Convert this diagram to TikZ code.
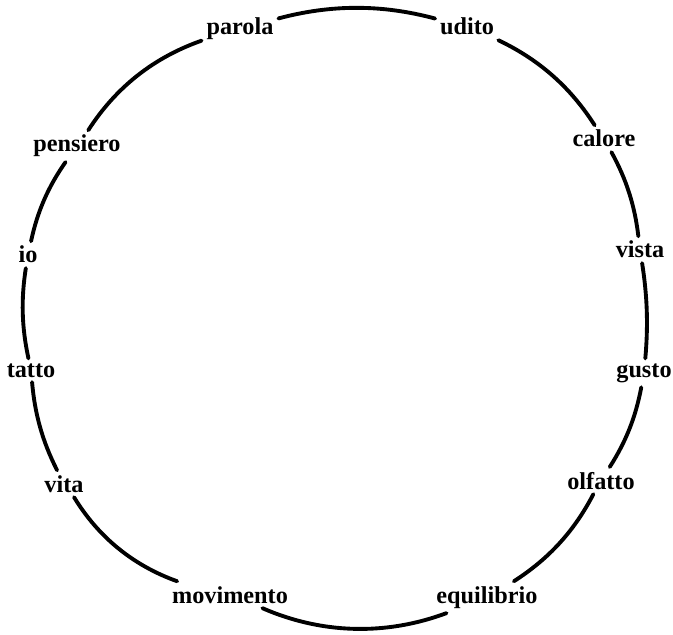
\documentclass[tikz,border=0pt]{standalone}
\usepackage{fontspec}
\setmainfont{Liberation Serif}
\usepackage{tikz}

\begin{document}
\begin{tikzpicture}[
  x=0.03cm,y=0.03cm,
  sense/.style={anchor=base,inner sep=4pt,font=\bfseries\fontsize{20.7}{25}\selectfont},
  ring/.style={line width=3.3pt,line cap=round}
]
\useasboundingbox (0,0) rectangle (673,634);

\node[sense] (parola) at (240,599) {parola};
\node[sense] (udito) at (467,599) {udito};
\node[sense] (calore) at (604,487) {calore};
\node[sense] (vista) at (640,376) {vista};
\node[sense] (gusto) at (644,257) {gusto};
\node[sense] (olfatto) at (601,145) {olfatto};
\node[sense] (equilibrio) at (487,31) {equilibrio};
\node[sense] (movimento) at (230,31) {movimento};
\node[sense] (vita) at (64,142) {vita};
\node[sense] (tatto) at (31,257) {tatto};
\node[sense] (io) at (28,371) {io};
\node[sense] (pensiero) at (77,482) {pensiero};

\foreach \from/\to/\bend in {parola/udito/15,udito/calore/16,calore/vista/11,
    vista/gusto/7,gusto/olfatto/11,olfatto/equilibrio/15,equilibrio/movimento/22,
    movimento/vita/19.5,vita/tatto/11,tatto/io/10.6,io/pensiero/11.5,pensiero/parola/19}
  \draw[ring] (\from) to[bend left=\bend,looseness=0.9] (\to);
\end{tikzpicture}
\end{document}
